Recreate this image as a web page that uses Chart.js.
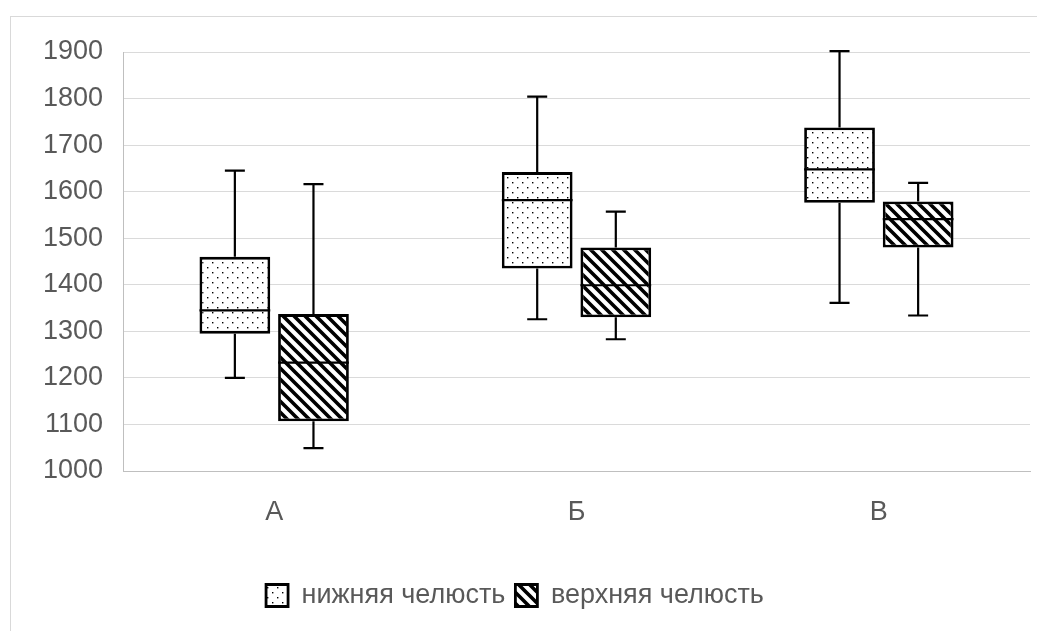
<!DOCTYPE html>
<html>
<head>
<meta charset="utf-8">
<script src="https://cdn.jsdelivr.net/npm/chart.js@4"></script>
<style>
  body { margin: 0; background: #fff; }
  #wrap { position: relative; width: 1037px; height: 631px; overflow: hidden; }
  #frame { position: absolute; left: 10px; top: 16px; width: 1100px; height: 700px; border: 1px solid #d9d9d9; }
  canvas { position: absolute; left: 0; top: 0; }
</style>
</head>
<body>
<div id="wrap">
  <div id="frame"></div>
  <canvas id="boxChart" width="1037" height="631"></canvas>
</div>
<script>
'use strict';

const groups = ['А', 'Б', 'В'];
const seriesNames = ['нижняя челюсть', 'верхняя челюсть'];

// нижняя челюсть
const lowerMin = [1200, 1326, 1361];
const lowerQ1 = [1295, 1435, 1576];
const lowerMedian = [1345, 1582, 1648];
const lowerQ3 = [1460, 1642, 1738];
const lowerMax = [1645, 1804, 1902];

// верхняя челюсть
const upperMin = [1049, 1283, 1334];
const upperQ1 = [1107, 1330, 1480];
const upperMedian = [1233, 1399, 1541];
const upperQ3 = [1337, 1480, 1579];
const upperMax = [1616, 1557, 1619];

const yMin = 1000;
const yMax = 1900;
const yStep = 100;

// fill patterns
function dotPattern()
{
    const c = document.createElement('canvas');
    c.width = 10; c.height = 10;
    const g = c.getContext('2d');
    g.fillStyle = '#fff';
    g.fillRect(0, 0, 10, 10);
    g.fillStyle = '#000';
    g.fillRect(2, 2, 1.4, 1.4);
    g.fillRect(7, 7, 1.4, 1.4);
    return g.createPattern(c, 'repeat');
}

function hatchPattern()
{
    const s = 11;
    const c = document.createElement('canvas');
    c.width = s; c.height = s;
    const g = c.getContext('2d');
    g.fillStyle = '#fff';
    g.fillRect(0, 0, s, s);
    g.strokeStyle = '#000';
    g.lineWidth = 3.6;
    g.beginPath();
    g.moveTo(-2, -2); g.lineTo(s + 2, s + 2);
    g.moveTo(-2, s - 2); g.lineTo(2, s + 2);
    g.moveTo(s - 2, -2); g.lineTo(s + 2, 2);
    g.stroke();
    return g.createPattern(c, 'repeat');
}

const toRange = (lo, hi) => lo.map((v, i) => [v, hi[i]]);

const whiskers = {
    id: 'whiskers',
    afterDatasetsDraw(chart)
    {
        const ctx = chart.ctx;
        const y = chart.scales.y;
        chart.data.datasets.forEach((ds, di) =>
        {
            const meta = chart.getDatasetMeta(di);
            meta.data.forEach((bar, i) =>
            {
                const half = bar.width / 2;
                const q1 = y.getPixelForValue(ds.data[i][0]);
                const q3 = y.getPixelForValue(ds.data[i][1]);
                const lo = y.getPixelForValue(ds.whiskerMin[i]);
                const hi = y.getPixelForValue(ds.whiskerMax[i]);
                const md = y.getPixelForValue(ds.median[i]);
                ctx.save();
                ctx.strokeStyle = '#000';
                ctx.lineWidth = 2.2;
                ctx.beginPath();
                ctx.moveTo(bar.x, q3); ctx.lineTo(bar.x, hi);
                ctx.moveTo(bar.x - 10, hi); ctx.lineTo(bar.x + 10, hi);
                ctx.moveTo(bar.x, q1); ctx.lineTo(bar.x, lo);
                ctx.moveTo(bar.x - 10, lo); ctx.lineTo(bar.x + 10, lo);
                ctx.moveTo(bar.x - half, md); ctx.lineTo(bar.x + half, md);
                ctx.stroke();
                ctx.restore();
            });
        });
    }
};

const ctx = document.getElementById('boxChart').getContext('2d');
const boxChart = new Chart(ctx, {
    type: 'bar',
    data: {
        labels: groups,
        datasets: [
            {
                label: seriesNames[0],
                data: toRange(lowerQ1, lowerQ3),
                median: lowerMedian,
                whiskerMin: lowerMin,
                whiskerMax: lowerMax,
                backgroundColor: dotPattern(),
                borderColor: '#000',
                borderWidth: 2.8,
                borderSkipped: false
            },
            {
                label: seriesNames[1],
                data: toRange(upperQ1, upperQ3),
                median: upperMedian,
                whiskerMin: upperMin,
                whiskerMax: upperMax,
                backgroundColor: hatchPattern(),
                borderColor: '#000',
                borderWidth: 2.8,
                borderSkipped: false
            }
        ]
    },
    options: {
        responsive: false,
        animation: false,
        devicePixelRatio: 1,
        categoryPercentage: 0.52,
        barPercentage: 0.9,
        layout: { padding: { left: 0, right: 7, top: 52, bottom: 12 } },
        scales: {
            x: {
                grid: { display: false, drawTicks: false },
                border: { display: true, color: '#bfbfbf' },
                ticks: { color: '#595959', padding: 25, font: { family: 'Liberation Sans', size: 27 } },
                afterFit(scale) { scale.height = 101; }
            },
            y: {
                min: yMin,
                max: yMax,
                grid: { color: '#dadada', drawTicks: false },
                border: { display: true, color: '#bfbfbf' },
                ticks: {
                    stepSize: yStep,
                    color: '#595959',
                    padding: 20,
                    font: { family: 'Liberation Sans', size: 27 },
                    callback: v => String(v)
                },
                afterFit(scale) { scale.width = 123; }
            }
        },
        plugins: {
            legend: {
                position: 'bottom',
                labels: {
                    color: '#595959',
                    boxWidth: 22,
                    boxHeight: 22,
                    padding: 10,
                    font: { family: 'Liberation Sans', size: 27 }
                }
            },
            tooltip: { enabled: false }
        }
    },
    plugins: [whiskers]
});
</script>
</body>
</html>
